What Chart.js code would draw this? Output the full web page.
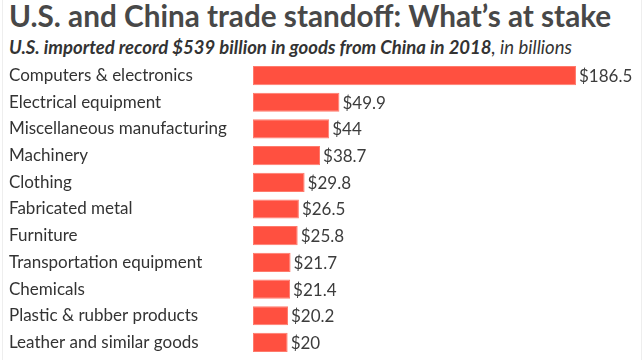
<!DOCTYPE html>
<html><head><meta charset="utf-8">
<script src="https://cdn.jsdelivr.net/npm/chart.js@4"></script>
<style>
html,body{margin:0;padding:0;background:#fff;width:643px;height:360px;overflow:hidden;font-family:Lato,sans-serif;}
#frame{position:absolute;left:2px;top:0;width:638px;height:360px;border-left:1px solid #eee;border-right:1px solid #eee;}
#title{position:absolute;left:9px;top:-2px;font-size:29.7px;font-weight:bold;color:#484848;white-space:nowrap;}
#sub{position:absolute;left:9px;top:36px;font-size:18.5px;font-style:italic;color:#333;white-space:nowrap;}
#sub b{font-weight:bold;}
#wrap{position:absolute;left:0;top:52px;width:643px;height:314px;}
</style></head>
<body>
<div id="frame"></div>
<div id="title">U.S. and China trade standoff: What’s at stake</div>
<div id="sub"><b>U.S. imported record $539 billion in goods from China in 2018</b>, in billions</div>
<div id="wrap"><canvas id="c"></canvas></div>
<script>
const categories = ["Computers & electronics","Electrical equipment","Miscellaneous manufacturing","Machinery","Clothing","Fabricated metal","Furniture","Transportation equipment","Chemicals","Plastic & rubber products","Leather and similar goods"];
const values = [186.5,49.9,44,38.7,29.8,26.5,25.8,21.7,21.4,20.2,20];
const valueLabels = ["$186.5","$49.9","$44","$38.7","$29.8","$26.5","$25.8","$21.7","$21.4","$20.2","$20"];

const labelPlugin = {
  id:'vlabels',
  afterDatasetsDraw(chart){
    const ctx = chart.ctx;
    const meta = chart.getDatasetMeta(0);
    ctx.save();
    ctx.font = '17px Lato';
    ctx.fillStyle = '#3c3c3c';
    ctx.textBaseline = 'middle';
    ctx.textAlign = 'left';
    meta.data.forEach((bar,i)=>{
      ctx.fillText(valueLabels[i], bar.x + 3, bar.y + 1);
    });
    ctx.restore();
  }
};

new Chart(document.getElementById('c'), {
  type:'bar',
  data:{labels:categories, datasets:[{data:values, backgroundColor:'#ff5040', borderColor:'#ff7a6c', borderWidth:1, borderSkipped:false, categoryPercentage:1, barPercentage:0.72}]},
  options:{
    indexAxis:'y', responsive:true, maintainAspectRatio:false, animation:false,
    layout:{padding:{left:9,right:0,top:0,bottom:0}},
    plugins:{legend:{display:false}, tooltip:{enabled:false}},
    scales:{
      x:{display:false, min:0, max:225.2},
      y:{
        grid:{display:false}, border:{display:false},
        ticks:{crossAlign:'far', color:'#333', font:{family:'Lato', size:17}, padding:0},
        afterFit(s){ s.width = 244; }
      }
    }
  },
  plugins:[labelPlugin]
});
</script>
</body></html>
